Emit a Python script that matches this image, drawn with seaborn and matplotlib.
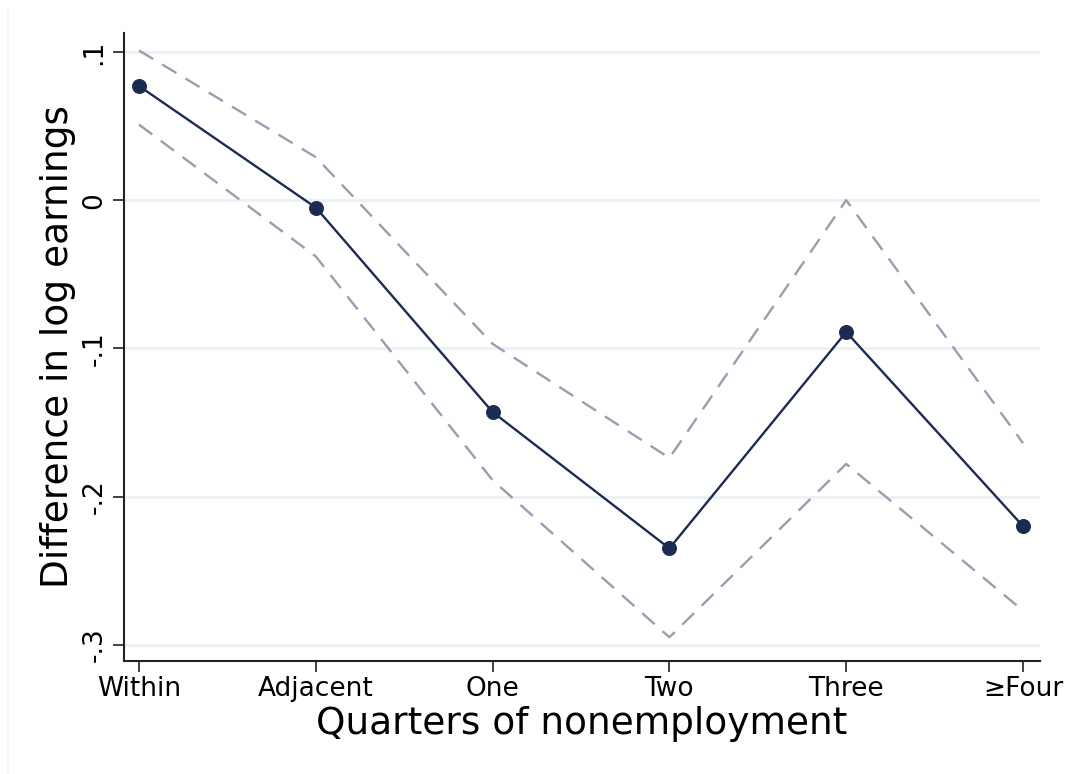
import matplotlib
matplotlib.use("Agg")
import matplotlib.pyplot as plt
from matplotlib.lines import Line2D
import seaborn as sns
import pandas as pd

# Earnings change by length of nonemployment spell, with 95% CI bounds
categories = ["Within", "Adjacent", "One", "Two", "Three", "\u2265Four"]
estimate = [0.077, -0.005, -0.143, -0.235, -0.089, -0.220]
upper_ci = [0.101, 0.029, -0.097, -0.174, 0.000, -0.164]
lower_ci = [0.051, -0.038, -0.189, -0.295, -0.178, -0.277]
y_ticks = [-0.3, -0.2, -0.1, 0.0, 0.1]
y_tick_labels = ["-.3", "-.2", "-.1", "0", ".1"]

df = pd.DataFrame({
    "pos": range(len(categories)),
    "category": categories,
    "estimate": estimate,
    "upper": upper_ci,
    "lower": lower_ci,
})

sns.set_style("white")
plt.rcParams["font.family"] = ["DejaVu Sans"]
plt.rcParams["text.color"] = "black"
plt.rcParams["axes.labelcolor"] = "black"
plt.rcParams["xtick.color"] = "black"
plt.rcParams["ytick.color"] = "black"

fig = plt.figure(figsize=(10.65, 7.74), dpi=100)
ax = fig.add_axes([0.1164, 0.146, 0.9765 - 0.1164, 0.9574 - 0.146])

navy = "#1c2b52"
ci_color = "#9a9cb2"
grid_color = "#ebf1f2"

for col in ["upper", "lower"]:
    sns.lineplot(data=df, x="pos", y=col, ax=ax, color=ci_color, lw=1.7,
                 linestyle=(0, (7, 4.5)), zorder=3)
sns.lineplot(data=df, x="pos", y="estimate", ax=ax, color=navy, lw=1.7,
             marker="o", markersize=10, markeredgecolor=navy,
             markerfacecolor=navy, zorder=4)

ax.set_xlim(-0.085, 5.096)
ax.set_ylim(-0.311, 0.1128)

ax.set_yticks(y_ticks)
ax.set_yticklabels(y_tick_labels, rotation=90, va="center", fontsize=19)
ax.set_xticks(df["pos"])
ax.set_xticklabels(categories, fontsize=19)

for y in y_ticks:
    ax.axhline(y, color=grid_color, lw=2, zorder=1)

ax.tick_params(axis="y", direction="out", length=8, width=1.3, color="#333333",
               labelcolor="black", left=True, pad=4)
ax.tick_params(axis="x", direction="out", length=8, width=1.3, color="#333333",
               labelcolor="black", bottom=True, pad=3)

for side in ["top", "right"]:
    ax.spines[side].set_visible(False)
for side in ["left", "bottom"]:
    ax.spines[side].set_color("#222222")
    ax.spines[side].set_linewidth(1.5)

ax.set_xlabel("Quarters of nonemployment", fontsize=27, labelpad=3, color="black")
ax.set_ylabel("Difference in log earnings", fontsize=27, labelpad=4, color="black")

# faint outer graph-region edge
fig.add_artist(Line2D([8 / 1065, 8 / 1065], [0, 1 - 7 / 774],
                      transform=fig.transFigure, color="#f0f5f7", lw=1.2))

fig.savefig("out.png", dpi=100, facecolor="white")
